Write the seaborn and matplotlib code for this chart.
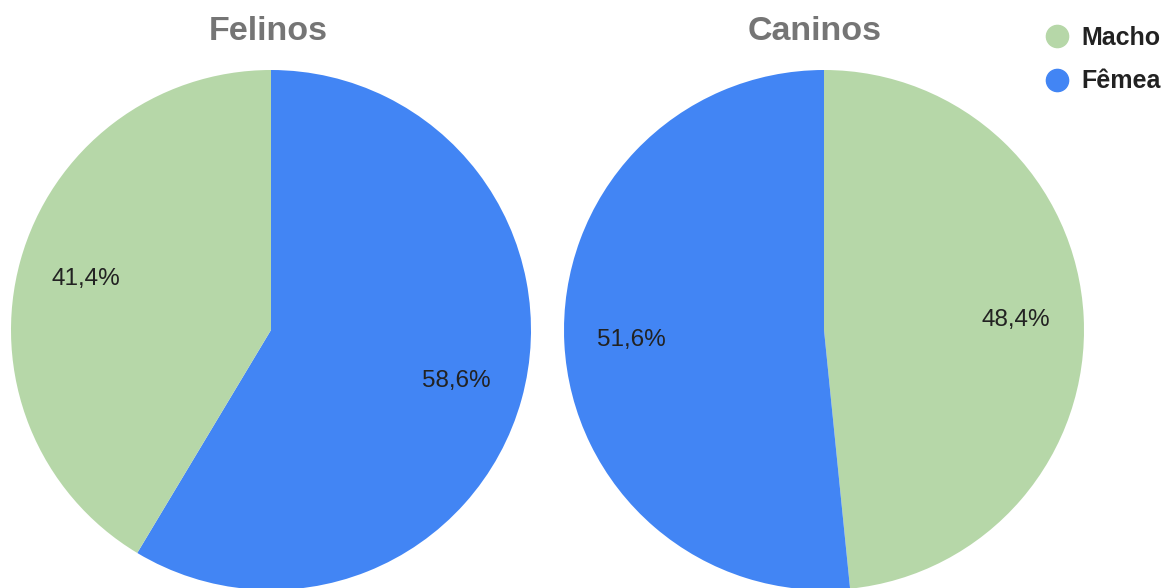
import matplotlib
matplotlib.use("Agg")
import matplotlib.pyplot as plt
from matplotlib.lines import Line2D
import seaborn as sns

# Sex distribution per species (percent)
species = ["Felinos", "Caninos"]
sexes = ["Macho", "Fêmea"]
felinos_values = [41.4, 58.6]
caninos_values = [48.4, 51.6]
value_labels = {"Felinos": ["41,4%", "58,6%"], "Caninos": ["48,4%", "51,6%"]}

sns.set_theme(style="white")
plt.rcParams["font.family"] = ["Liberation Sans", "DejaVu Sans"]

palette = dict(zip(sexes, ["#b6d7a8", "#4285f4"]))

W, H = 1171, 588
fig = plt.figure(figsize=(W / 100, H / 100), dpi=100)

# pie centres and radius in pixels
R = 260
centres = {"Felinos": (271, 330), "Caninos": (824, 330)}
# slice order drawn clockwise from 12 o'clock
orders = {"Felinos": [1, 0], "Caninos": [0, 1]}
data = {"Felinos": felinos_values, "Caninos": caninos_values}

for sp in species:
    cx, cy = centres[sp]
    ax = fig.add_axes([(cx - R) / W, (H - cy - R) / H, 2 * R / W, 2 * R / H])
    idx = orders[sp]
    vals = [data[sp][i] for i in idx]
    cols = [palette[sexes[i]] for i in idx]
    labs = [value_labels[sp][i] for i in idx]
    wedges, texts = ax.pie(vals, colors=cols, startangle=90, counterclock=False,
                           radius=1, labels=labs, labeldistance=0.74,
                           wedgeprops=dict(linewidth=0),
                           textprops=dict(fontsize=17.5, color="#222222"))
    for t in texts:
        t.set_ha("center")
        t.set_va("center")
    ax.set_xlim(-1, 1)
    ax.set_ylim(-1, 1)
    ax.set_aspect("equal")
    ax.axis("off")

fig.text(268 / W, 1 - 32 / H, "Felinos", ha="center", va="center",
         fontsize=24.5, fontweight="bold", color="#757575")
fig.text(815 / W, 1 - 32 / H, "Caninos", ha="center", va="center",
         fontsize=24.5, fontweight="bold", color="#757575")

handles = [Line2D([], [], marker="o", linestyle="", markersize=16,
                  markerfacecolor=palette[s], markeredgecolor=palette[s])
           for s in sexes]
fig.legend(handles, sexes, loc="upper left", bbox_to_anchor=(1046 / W, 1 - 26 / H),
           frameon=False, handletextpad=0.5, labelspacing=0.78, handlelength=0.9,
           prop=dict(weight="bold", size=18), borderaxespad=0, borderpad=0,
           labelcolor="#222222")

fig.savefig("out.png", dpi=100)
